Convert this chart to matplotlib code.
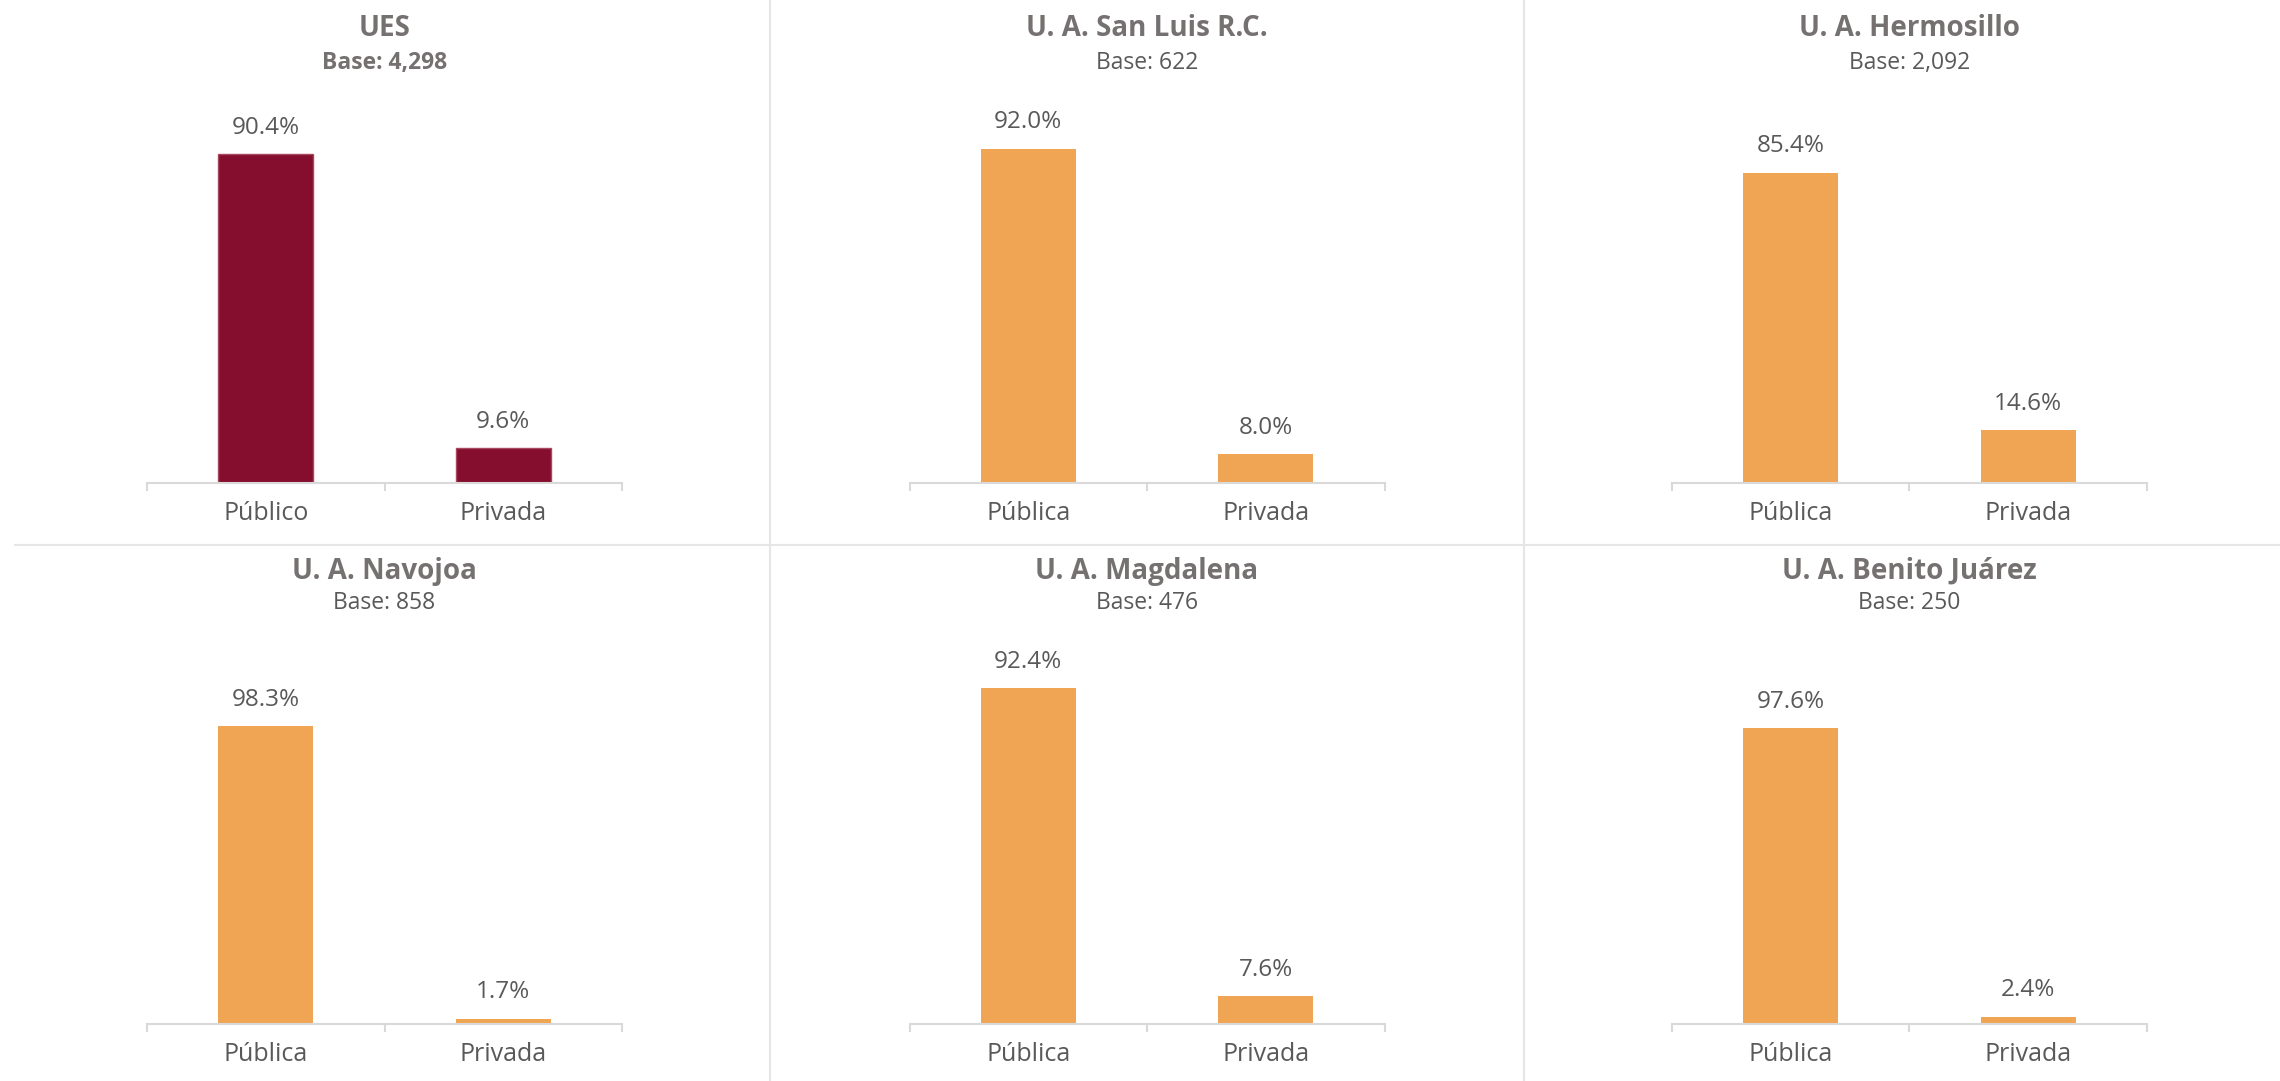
import matplotlib
matplotlib.use('Agg')
import matplotlib.pyplot as plt

plt.rcParams['font.family'] = ['Open Sans', 'DejaVu Sans']

# ---------------------------------------------------------------
#  Data
# ---------------------------------------------------------------
panel_titles = ['UES', 'U. A. San Luis R.C.', 'U. A. Hermosillo',
                'U. A. Navojoa', 'U. A. Magdalena', 'U. A. Benito Juárez']
panel_bases = ['4,298', '622', '2,092', '858', '476', '250']
first_labels = ['Público', 'Pública', 'Pública', 'Pública', 'Pública', 'Pública']
second_labels = ['Privada'] * 6
publica_pct = [90.4, 92.0, 85.4, 98.3, 92.4, 97.6]
privada_pct = [9.6, 8.0, 14.6, 1.7, 7.6, 2.4]

# ---------------------------------------------------------------
#  Style
# ---------------------------------------------------------------
W, H = 2280, 1081
DPI = 100
TITLE_COLOR = '#767171'
TEXT_COLOR = '#595959'
AXIS_COLOR = '#D9D9D9'
SEP_COLOR = '#E6E6E6'
UES_COLOR = '#850E2F'
UA_COLOR = '#F0A554'

fig = plt.figure(figsize=(W / DPI, H / DPI), dpi=DPI)
fig.patch.set_facecolor('white')

# layout in pixels
axis_left0 = 147
col_step = 762.5
axis_w = 475
axis_h = 363.5
baselines = [483, 1024]
title_y = [29, 571]
base_y = [63, 603]

for i in range(6):
    row, col = divmod(i, 3)
    left = axis_left0 + col * col_step
    bottom = baselines[row]
    ax = fig.add_axes([left / W, 1 - bottom / H, axis_w / W, axis_h / H])

    vals = [publica_pct[i] / 100, privada_pct[i] / 100]
    color = UES_COLOR if i == 0 else UA_COLOR
    edge = '#A8485F' if i == 0 else UA_COLOR
    ax.bar([0, 1], vals, width=0.4, color=color, edgecolor=edge,
           linewidth=1 if i == 0 else 0)

    ymax = 1.2 if max(vals) > 0.95 else 1.0
    ax.set_ylim(0, ymax)
    ax.set_xlim(-0.5, 1.5)

    for x, v in zip([0, 1], vals):
        ax.annotate(f'{v * 100:.1f}%', (x, v), xytext=(0, 19),
                    textcoords='offset points', ha='center', va='center',
                    fontsize=17.5, color=TEXT_COLOR)

    # axis cosmetics
    for s in ['top', 'left', 'right']:
        ax.spines[s].set_visible(False)
    ax.spines['bottom'].set_color(AXIS_COLOR)
    ax.spines['bottom'].set_linewidth(1.5)
    ax.set_yticks([])
    ax.set_xticks([0, 1])
    ax.set_xticklabels([first_labels[i], second_labels[i]], fontsize=18,
                       color=TEXT_COLOR)
    ax.tick_params(axis='x', which='major', length=0, pad=13)
    ax.set_xticks([-0.5, 0.5, 1.5], minor=True)
    ax.tick_params(axis='x', which='minor', length=6, width=1.5,
                   color=AXIS_COLOR, direction='out')
    ax.patch.set_alpha(0)

    # panel title and base
    cx = (left + axis_w / 2) / W
    fig.text(cx, 1 - title_y[row] / H, panel_titles[i], ha='center',
             va='center', fontsize=20, fontweight='bold', color=TITLE_COLOR)
    fig.text(cx, 1 - base_y[row] / H, 'Base: ' + panel_bases[i], ha='center',
             va='center', fontsize=16.5,
             fontweight='bold' if i == 0 else 'normal',
             color=TITLE_COLOR if i == 0 else TEXT_COLOR)

# separators between panels
fig.add_artist(plt.Line2D([15 / W, 1], [1 - 545 / H, 1 - 545 / H],
                          color=SEP_COLOR, linewidth=1.5))
for xs in [770, 1524]:
    fig.add_artist(plt.Line2D([xs / W, xs / W], [0, 1],
                              color=SEP_COLOR, linewidth=1.5))

fig.savefig('out.png', dpi=DPI, facecolor='white')
